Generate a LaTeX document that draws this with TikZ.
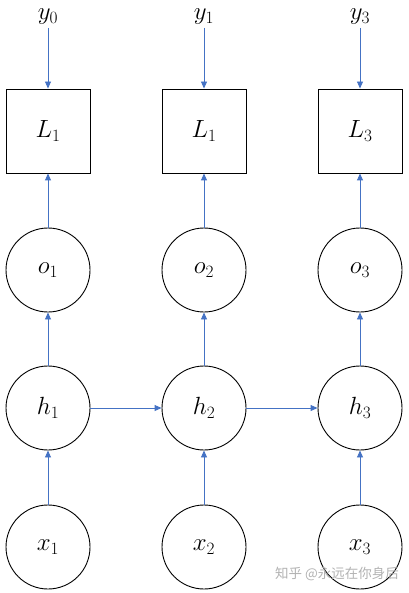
\documentclass[tikz,border=0pt]{standalone}
\usepackage{fontspec}
\newfontfamily\cjk{Noto Sans CJK SC}
\usetikzlibrary{arrows.meta}
\newcommand\sbs[1]{\hbox{\fontsize{17}{20}\selectfont$#1$}}
\definecolor{arrowblue}{RGB}{68,114,196}
\begin{document}
\begin{tikzpicture}[x=1pt,y=-1pt,
  sq/.style={draw=black,line width=0.9pt,minimum size=84pt,inner sep=0pt,font=\fontsize{24}{28}\selectfont},
  circ/.style={draw=black,line width=0.9pt,circle,minimum size=84pt,inner sep=0pt,font=\fontsize{24}{28}\selectfont},
  lab/.style={inner sep=0pt,anchor=base,font=\fontsize{24}{28}\selectfont},
  arr/.style={draw=arrowblue,line width=0.9pt,-{Triangle[length=7pt,width=6pt]}}]
\useasboundingbox (0,0) rectangle (408,593);
\foreach \c/\px/\yl/\ll/\n in {1/48/0/1/1,2/204/1/1/2,3/360/3/3/3}{
  \node[lab] (y\c) at (\px,20) {$y_{\sbs{\yl}}$};
  \coordinate (ys\c) at (\px,28);
  \node[sq] (L\c) at (\px,131) {$L_{\sbs{\ll}}$};
  \node[circ] (o\c) at (\px,270) {$o_{\sbs{\n}}$};
  \node[circ] (h\c) at (\px,408) {$h_{\sbs{\n}}$};
  \node[circ] (x\c) at (\px,547) {$x_{\sbs{\n}}$};
  \draw[arr] (ys\c) -- (L\c.north);
  \draw[arr] (o\c) -- (L\c);
  \draw[arr] (h\c) -- (o\c);
  \draw[arr] (x\c) -- (h\c);
}
\draw[arr] (h1) -- (h2);
\draw[arr] (h2) -- (h3);
\node[text=black!30,font=\cjk\fontsize{13.5}{15}\selectfont,anchor=east,inner sep=0pt] (wm) at (399,574) {知乎 @永远在你身后};
\end{tikzpicture}
\end{document}
